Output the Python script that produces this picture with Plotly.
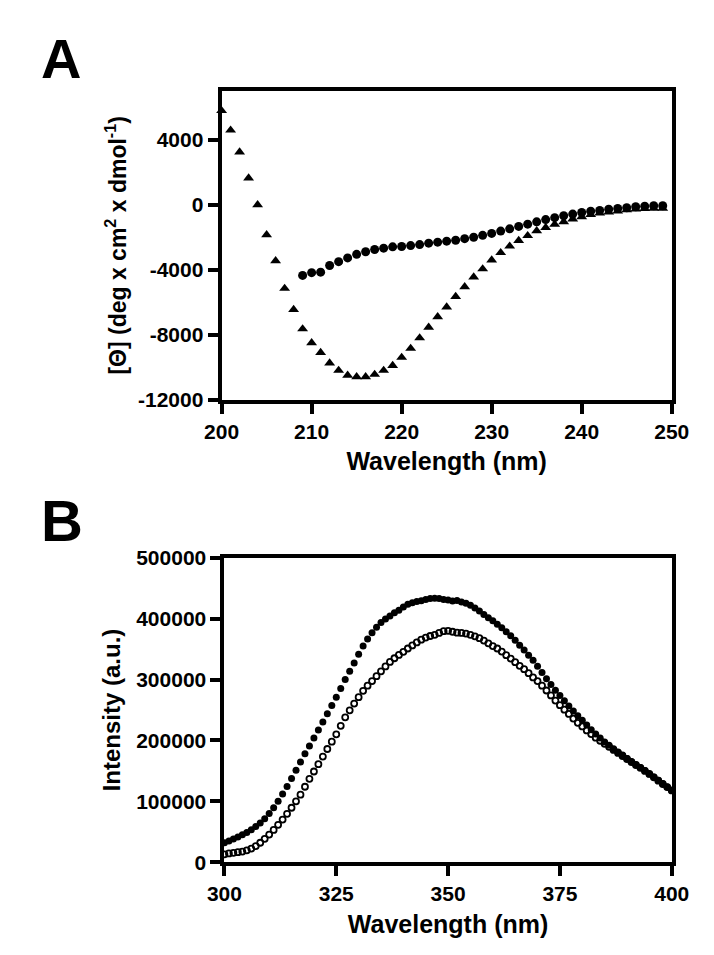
import plotly.graph_objects as go

# ---------------- Panel A data (CD spectra) ----------------
cd_tri_x = list(range(200, 250))
cd_tri_y = [5800, 4600, 3250, 1650, 0, -1850, -3450, -5150, -6450, -7650,
            -8500, -9100, -9750, -10200, -10500, -10600, -10600, -10450, -10200, -9900,
            -9400, -8850, -8200, -7550, -6900, -6300, -5650, -5050, -4450, -3950,
            -3400, -2950, -2550, -2200, -1900, -1600, -1400, -1200, -1050, -880,
            -750, -610, -510, -450, -390, -310, -270, -240, -220, -220]

cd_circ_x = list(range(209, 250))
cd_circ_y = [-4350, -4180, -4150, -3740, -3500, -3270, -3050, -2890, -2750, -2670,
             -2590, -2570, -2510, -2450, -2360, -2300, -2240, -2180, -2085, -2000,
             -1880, -1760, -1620, -1480, -1330, -1190, -1050, -910, -790, -670,
             -570, -470, -390, -345, -270, -225, -180, -120, -85, -60, -60]

a_ytickvals = [-12000, -8000, -4000, 0, 4000]
a_yticktext = ["-12000", "-8000", "-4000", "0", "4000"]
a_xtickvals = [200, 210, 220, 230, 240, 250]

# ---------------- Panel B data (fluorescence) ----------------
fl_x = list(range(300, 401))
fl_filled = [32000, 35000, 38000, 41500, 45000, 49000, 53500, 58500, 64500, 71500,
             80000, 89500, 100000, 112000, 124500, 137500, 151000, 164500, 178000, 191000,
             204000, 217000, 230500, 244000, 257500, 271000, 285500, 300000, 313500, 327000,
             341500, 355000, 366500, 377000, 386000, 393500, 399500, 404500, 409500, 414000,
             419000, 423500, 426000, 428000, 429500, 431500, 433000, 433500, 433000, 431500,
             430500, 429000, 430000, 427500, 425500, 422000, 417500, 412500, 407000, 401500,
             396500, 391000, 385000, 378500, 372000, 364500, 356500, 348500, 340000, 331500,
             322000, 311500, 301500, 292000, 282500, 274000, 265000, 256500, 248500, 240500,
             233000, 225500, 217500, 210500, 204000, 197500, 192000, 186500, 181000, 176000,
             170500, 165500, 160500, 155500, 150500, 145000, 140000, 134500, 129000, 123500,
             118000]
fl_open = [13000, 14500, 15500, 16500, 17500, 19500, 22500, 26500, 32000, 38500,
           45500, 53000, 61500, 70000, 79500, 89500, 100000, 111000, 124000, 137000,
           149000, 161000, 173500, 186000, 198000, 210000, 224000, 238000, 249500, 260500,
           271000, 281500, 290000, 297500, 305500, 313500, 321500, 329000, 335000, 340500,
           345500, 351000, 356000, 361000, 365500, 369000, 371500, 373500, 376500, 379500,
           380000, 378500, 377000, 376500, 375500, 373500, 371000, 368000, 364000, 359500,
           355000, 351000, 346000, 340000, 334500, 328500, 322500, 317000, 310500, 303500,
           297500, 290000, 282000, 274000, 265500, 258000, 250500, 243500, 236000, 229000,
           223000, 216500, 210500, 204500, 199500, 194500, 189500, 184500, 179500, 174500,
           169500, 164500, 159500, 155000, 150000, 145000, 139500, 134000, 128500, 123500,
           118000]

b_ytickvals = [0, 100000, 200000, 300000, 400000, 500000]
b_yticktext = ["0", "100000", "200000", "300000", "400000", "500000"]
b_xtickvals = [300, 325, 350, 375, 400]

FONT = "Liberation Sans, Arial, sans-serif"

fig = go.Figure()

fig.add_trace(go.Scatter(x=cd_tri_x, y=cd_tri_y, mode="markers",
                         marker=dict(symbol="triangle-up", size=9.5, color="black"),
                         xaxis="x", yaxis="y", cliponaxis=False, showlegend=False))
fig.add_trace(go.Scatter(x=cd_circ_x, y=cd_circ_y, mode="markers",
                         marker=dict(symbol="circle", size=9, color="black"),
                         xaxis="x", yaxis="y", cliponaxis=False, showlegend=False))

fig.add_trace(go.Scatter(x=fl_x, y=fl_open, mode="markers",
                         marker=dict(symbol="circle-open", size=6, color="black",
                                     line=dict(width=1.8, color="black")),
                         xaxis="x2", yaxis="y2", cliponaxis=False, showlegend=False))
fig.add_trace(go.Scatter(x=fl_x, y=fl_filled, mode="markers",
                         marker=dict(symbol="circle", size=7, color="black"),
                         xaxis="x2", yaxis="y2", cliponaxis=False, showlegend=False))

axis_common = dict(showline=True, linecolor="black", linewidth=4, mirror=True,
                   ticks="outside", ticklen=10, tickwidth=3.5, tickcolor="black",
                   showgrid=False, zeroline=False,
                   tickfont=dict(family=FONT, size=21, color="black", weight="bold"))

xtitle_font = dict(family=FONT, size=25, color="black", weight="bold")
ytitleA_font = dict(family=FONT, size=23, color="black", weight="bold")
ytitleB_font = dict(family=FONT, size=24, color="black", weight="bold")

fig.update_layout(
    width=714, height=955,
    margin=dict(l=0, r=0, t=0, b=0),
    paper_bgcolor="white", plot_bgcolor="white",
    xaxis=dict(domain=[0.2885, 0.9524], range=[200, 250], tickvals=a_xtickvals,
               anchor="y",
               title=dict(text="Wavelength (nm)", font=xtitle_font, standoff=12),
               **axis_common),
    yaxis=dict(domain=[0.5927, 0.9236], range=[-12000, 7000], tickvals=a_ytickvals,
               ticktext=a_yticktext, anchor="x",
               title=dict(text="[Θ] (deg x cm<sup>2</sup> x dmol<sup>-1</sup>)",
                          font=ytitleA_font, standoff=6),
               **axis_common),
    xaxis2=dict(domain=[0.2927, 0.9524], range=[300, 400], tickvals=b_xtickvals,
                anchor="y2",
                title=dict(text="Wavelength (nm)", font=xtitle_font, standoff=12),
                **axis_common),
    yaxis2=dict(domain=[0.0963, 0.4230], range=[0, 500000], tickvals=b_ytickvals,
                ticktext=b_yticktext, anchor="x2",
                title=dict(text="Intensity (a.u.)", font=ytitleB_font, standoff=10),
                **axis_common),
    annotations=[
        dict(text="A", x=14 / 714, y=1 - 5 / 955, xref="paper", yref="paper",
             xanchor="left", yanchor="top", showarrow=False,
             font=dict(family=FONT, size=56, color="black", weight="bold")),
        dict(text="B", x=14 / 714, y=1 - 478 / 955, xref="paper", yref="paper",
             xanchor="left", yanchor="top", showarrow=False,
             font=dict(family=FONT, size=58, color="black", weight="bold")),
    ],
)

fig.write_html("out.html")
